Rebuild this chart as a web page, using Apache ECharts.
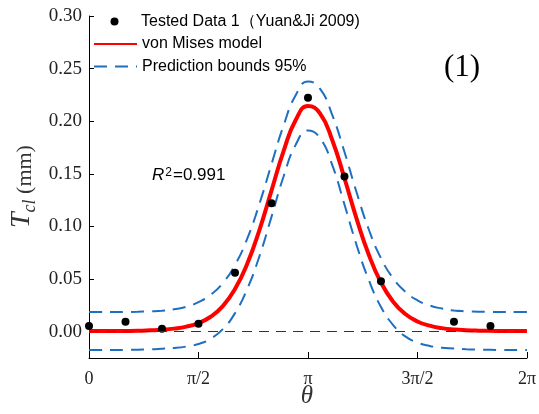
<!DOCTYPE html>
<html>
<head>
<meta charset="utf-8">
<script src="https://cdn.jsdelivr.net/npm/echarts@6/dist/echarts.min.js"></script>
<style>
html,body{margin:0;padding:0;background:#fff;}
#chart{width:539px;height:414px;}
</style>
</head>
<body>
<div id="chart"></div>
<script>
// Measured data (theta in degrees)
const testedTheta = [0, 30, 60, 90, 120, 150, 180, 210, 240, 300, 330];
const testedValues = [0.0055, 0.0094, 0.0027, 0.0075, 0.0559, 0.1220, 0.2223, 0.1474, 0.0480, 0.0094, 0.0055];

// Curves (theta in degrees)
const curveTheta = [0,10,20,30,40,50,60,70,80,90,100,110,120,130,140,150,160,170,180,190,200,210,220,230,240,250,260,270,280,290,300,310,320,330,340,350,360];
const vonMises = [0.0006,0.0006,0.0006,0.0007,0.0009,0.0013,0.0018,0.0029,0.0048,0.0082,0.0142,0.0243,0.0405,0.0643,0.0963,0.1341,0.1719,0.2014,0.2145,0.2073,0.1820,0.1458,0.1072,0.0731,0.0467,0.0285,0.0168,0.0097,0.0057,0.0034,0.0021,0.0014,0.0010,0.0008,0.0007,0.0006,0.0006];
const upperBound = [0.0186,0.0186,0.0186,0.0187,0.0189,0.0193,0.0198,0.0213,0.0237,0.0281,0.0351,0.0462,0.0634,0.0882,0.1212,0.1591,0.1961,0.2250,0.2378,0.2307,0.2058,0.1708,0.1322,0.0971,0.0699,0.0507,0.0380,0.0298,0.0249,0.0220,0.0201,0.0194,0.0190,0.0188,0.0187,0.0186,0.0186];
const lowerBound = [-0.0174,-0.0174,-0.0174,-0.0173,-0.0171,-0.0168,-0.0162,-0.0155,-0.0141,-0.0117,-0.0067,0.0024,0.0176,0.0404,0.0714,0.1091,0.1477,0.1778,0.1912,0.1839,0.1582,0.1208,0.0822,0.0491,0.0235,0.0063,-0.0045,-0.0104,-0.0135,-0.0152,-0.0159,-0.0166,-0.0170,-0.0172,-0.0174,-0.0174,-0.0174];

// Tick labels
const xTickValues = [0, 90, 180, 270, 360];
const xTickLabels = ['0', 'π/2', 'π', '3π/2', '2π'];
const yTickValues = [0, 0.05, 0.10, 0.15, 0.20, 0.25, 0.30];

const zip = (xs, ys) => xs.map((x, i) => [x, ys[i]]);

const NAME_DATA = 'Tested Data 1（Yuan&Ji 2009)';
const NAME_MODEL = 'von Mises model';
const NAME_BOUNDS = 'Prediction bounds 95%';

const chart = echarts.init(document.getElementById('chart'), null, {renderer: 'canvas'});
const serif = '"Liberation Serif", "Times New Roman", serif';
const sans = '"Liberation Sans", Arial, sans-serif';
const blue = '#1f6fc0';
// legend icon: a dot centred in a 43x8 box (moves only extend the box)
const dotIcon = 'path://M0,0M43,8M17.5,4a4,4 0 1,0 8,0a4,4 0 1,0 -8,0z';

chart.setOption({
  animation: false,
  backgroundColor: '#fff',
  grid: {left: 89, right: 12, top: 16, bottom: 56, containLabel: false},
  legend: [
    {
      data: [{name: NAME_DATA, icon: dotIcon}],
      orient: 'vertical', left: 93, top: 13, padding: 0,
      itemWidth: 43, itemHeight: 8, itemGap: 5,
      selectedMode: false,
      itemStyle: {opacity: 1, color: '#000'},
      textStyle: {fontFamily: sans, fontSize: 16, color: '#000', lineHeight: 17}
    },
    {
      data: [NAME_MODEL, NAME_BOUNDS],
      orient: 'vertical', left: 93, top: 35.5, padding: 0,
      itemWidth: 43, itemHeight: 14, itemGap: 5.5,
      selectedMode: false,
      itemStyle: {opacity: 0},
      textStyle: {fontFamily: sans, fontSize: 16, color: '#000', lineHeight: 17}
    }
  ],
  xAxis: {
    type: 'value', min: 0, max: 360, interval: 90,
    axisLine: {show: true, onZero: false, lineStyle: {color: '#000', width: 1}},
    axisTick: {show: true, inside: true, length: 6, lineStyle: {color: '#000'}},
    axisLabel: {
      margin: 12, fontFamily: serif, fontSize: 18, color: '#222',
      formatter: v => { const i = xTickValues.indexOf(v); return i >= 0 ? xTickLabels[i] : ''; }
    },
    splitLine: {show: false}
  },
  yAxis: {
    type: 'value', min: -0.025, max: 0.30,
    axisLine: {show: true, onZero: false, lineStyle: {color: '#000', width: 1}},
    axisTick: {show: true, inside: true, length: 5, customValues: yTickValues, lineStyle: {color: '#000'}},
    axisLabel: {
      margin: 7, fontFamily: serif, fontSize: 19, color: '#222',
      customValues: yTickValues,
      formatter: v => v.toFixed(2)
    },
    splitLine: {show: false}
  },
  graphic: [
    {
      type: 'text', x: 462, y: 68, z: 10,
      style: {text: '(1)', font: '31px ' + serif, fill: '#000', align: 'center', verticalAlign: 'middle'}
    },
    {
      type: 'text', x: 152, y: 175, z: 10,
      style: {
        text: '{r|R}{s|2}{n|=0.991}',
        verticalAlign: 'middle', align: 'left',
        rich: {
          r: {fontFamily: sans, fontStyle: 'italic', fontSize: 17, fill: '#000', verticalAlign: 'bottom'},
          s: {fontFamily: sans, fontSize: 12, fill: '#000', verticalAlign: 'top', padding: [0, 1, 0, 1]},
          n: {fontFamily: sans, fontSize: 17, fill: '#000', verticalAlign: 'bottom'}
        }
      }
    },
    {
      type: 'text', x: 22, y: 228, rotation: Math.PI / 2, z: 10,
      style: {
        text: '{t|T}{c|cl}{m| (mm)}',
        align: 'left', verticalAlign: 'middle',
        rich: {
          t: {fontFamily: serif, fontStyle: 'italic', fontSize: 28, fill: '#333', verticalAlign: 'bottom'},
          c: {fontFamily: serif, fontStyle: 'italic', fontSize: 18, fill: '#333', verticalAlign: 'bottom', padding: [0, 0, -3, 0]},
          m: {fontFamily: serif, fontSize: 22, fill: '#333', verticalAlign: 'bottom'}
        }
      }
    },
    {
      type: 'text', x: 307, y: 396, z: 10,
      style: {text: 'θ', font: 'italic 25px ' + serif, fill: '#333', align: 'center', verticalAlign: 'middle'}
    }
  ],
  series: [
    {
      name: NAME_BOUNDS, type: 'line', data: zip(curveTheta, upperBound),
      smooth: true, showSymbol: false, symbol: 'none', z: 2,
      lineStyle: {color: blue, width: 2, type: [13, 8]}, itemStyle: {color: blue},
      markLine: {
        silent: true, symbol: 'none', label: {show: false},
        lineStyle: {color: '#333', width: 1, type: [10, 7]},
        data: [{yAxis: 0}]
      }
    },
    {
      name: NAME_BOUNDS, type: 'line', data: zip(curveTheta, lowerBound),
      smooth: true, showSymbol: false, symbol: 'none', z: 2,
      lineStyle: {color: blue, width: 2, type: [13, 8]}, itemStyle: {color: blue}
    },
    {
      name: NAME_MODEL, type: 'line', data: zip(curveTheta, vonMises),
      smooth: true, showSymbol: false, symbol: 'none', z: 3,
      lineStyle: {color: '#ff0000', width: 4}, itemStyle: {color: '#ff0000'}
    },
    {
      name: NAME_DATA, type: 'scatter', data: zip(testedTheta, testedValues),
      symbol: 'circle', symbolSize: 8, z: 4,
      itemStyle: {color: '#000', opacity: 1}
    }
  ]
});
</script>
</body>
</html>
